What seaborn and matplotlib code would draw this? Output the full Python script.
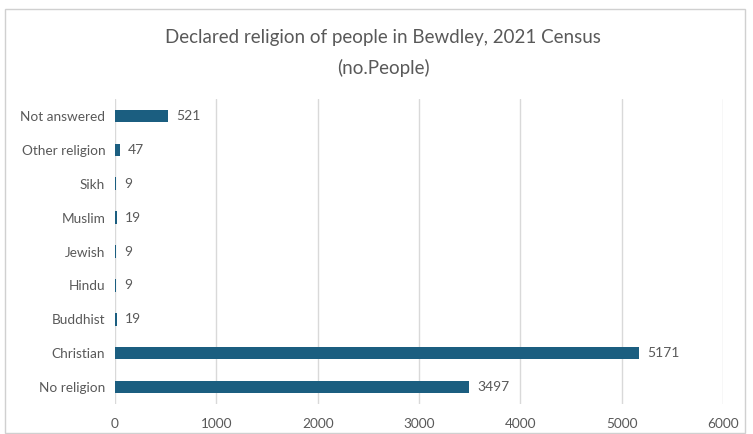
import matplotlib
matplotlib.use("Agg")
import matplotlib.pyplot as plt
import seaborn as sns
import pandas as pd
from matplotlib.patches import Rectangle

# Data
religions = ["Not answered", "Other religion", "Sikh", "Muslim", "Jewish",
             "Hindu", "Buddhist", "Christian", "No religion"]
people = [521, 47, 9, 19, 9, 9, 19, 5171, 3497]
x_ticks = [0, 1000, 2000, 3000, 4000, 5000, 6000]

df = pd.DataFrame({"Religion": religions, "People": people})

sns.set_style("white")
plt.rcParams["font.family"] = ["Lato", "DejaVu Sans"]

grey = "#595959"
fig = plt.figure(figsize=(7.53, 4.34), dpi=100)
ax = fig.add_axes([0.1527, 0.0691, 0.8075, 0.7028])

sns.barplot(data=df, x="People", y="Religion", color="#1b5e80",
            width=0.37, ax=ax, saturation=1, linewidth=0)

for i, v in enumerate(people):
    ax.text(v + 80, i, str(v), va="center", ha="left", fontsize=10, color=grey)

ax.set_xlim(0, 6000)
ax.set_ylim(8.5, -0.5)
ax.set_xticks(x_ticks)
ax.set_xticklabels([str(t) for t in x_ticks])
ax.grid(axis="x", color="#d9d9d9", linewidth=1)
ax.set_axisbelow(True)
for s in ax.spines.values():
    s.set_visible(False)
ax.tick_params(axis="both", length=0, labelsize=9.8, colors=grey)
ax.tick_params(axis="x", pad=10)
ax.tick_params(axis="y", pad=7)
ax.set_xlabel("")
ax.set_ylabel("")

fig.text(0.509, 0.913, "Declared religion of people in Bewdley, 2021 Census",
         ha="center", va="center", fontsize=13.5, color=grey)
fig.text(0.509, 0.843, "(no.People)", ha="center", va="center",
         fontsize=13.5, color=grey)

fig.patches.append(Rectangle((0.006, 0.002), 0.984, 0.978, transform=fig.transFigure,
                             fill=False, edgecolor="#d0d0d0", linewidth=1))

fig.savefig("out.png", dpi=100)
